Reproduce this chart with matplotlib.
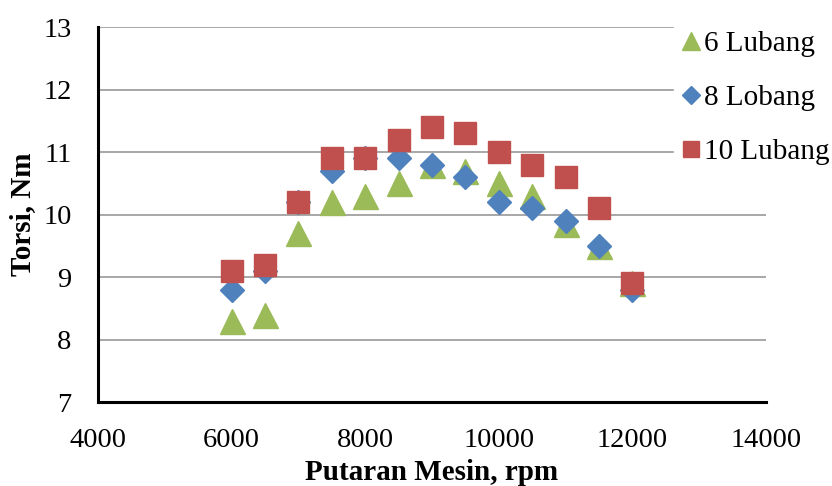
import matplotlib
matplotlib.use("Agg")
import matplotlib.pyplot as plt

plt.rcParams['font.family'] = ['Liberation Serif', 'DejaVu Serif']

rpm = [6000, 6500, 7000, 7500, 8000, 8500, 9000, 9500, 10000, 10500, 11000, 11500, 12000]
lubang6 = [8.3, 8.4, 9.7, 10.2, 10.3, 10.5, 10.8, 10.7, 10.5, 10.3, 9.85, 9.5, 8.9]
lobang8 = [8.8, 9.1, 10.2, 10.7, 10.9, 10.9, 10.8, 10.6, 10.2, 10.1, 9.9, 9.5, 8.8]
lubang10 = [9.1, 9.2, 10.2, 10.9, 10.9, 11.2, 11.4, 11.3, 11.0, 10.8, 10.6, 10.1, 8.9]

fig = plt.figure(figsize=(8.32, 4.86), dpi=100)
ax = fig.add_axes([0.1178, 0.1728, 0.8029, 0.7716])

ax.plot(rpm, lubang6, '^', color='#9BBB59', markersize=18, label='6 Lubang', zorder=3)
ax.plot(rpm, lobang8, 'D', color='#4F81BD', markersize=12.5, label='8 Lobang', zorder=4)
ax.plot(rpm, lubang10, 's', color='#C0504D', markersize=16.5, label='10 Lubang', zorder=5)

ax.set_xlim(4000, 14000)
ax.set_ylim(7, 13)
ax.set_xticks(range(4000, 14001, 2000))
ax.set_yticks(range(7, 14))
ax.grid(axis='y', color='#A0A0A0', linewidth=1.3)
ax.set_axisbelow(True)
for s in ['top', 'right']:
    ax.spines[s].set_visible(False)
for s in ['left', 'bottom']:
    ax.spines[s].set_linewidth(2.2)
    ax.spines[s].set_color('black')
ax.tick_params(length=0, labelsize=20.5, pad=19)

ax.set_xlabel('Putaran Mesin, rpm', fontsize=21, fontweight='bold', labelpad=4)
ax.set_ylabel('Torsi, Nm', fontsize=21, fontweight='bold', labelpad=5)

leg = fig.legend(loc='upper left', bbox_to_anchor=(0.792, 0.985), frameon=True,
                 fontsize=21, markerscale=0.72, handlelength=0.6, handletextpad=0.15,
                 labelspacing=0.95, borderpad=0.3)
leg.get_frame().set_edgecolor('white')
leg.get_frame().set_facecolor('white')
leg.get_frame().set_alpha(1)

fig.savefig('out.png', dpi=100)
